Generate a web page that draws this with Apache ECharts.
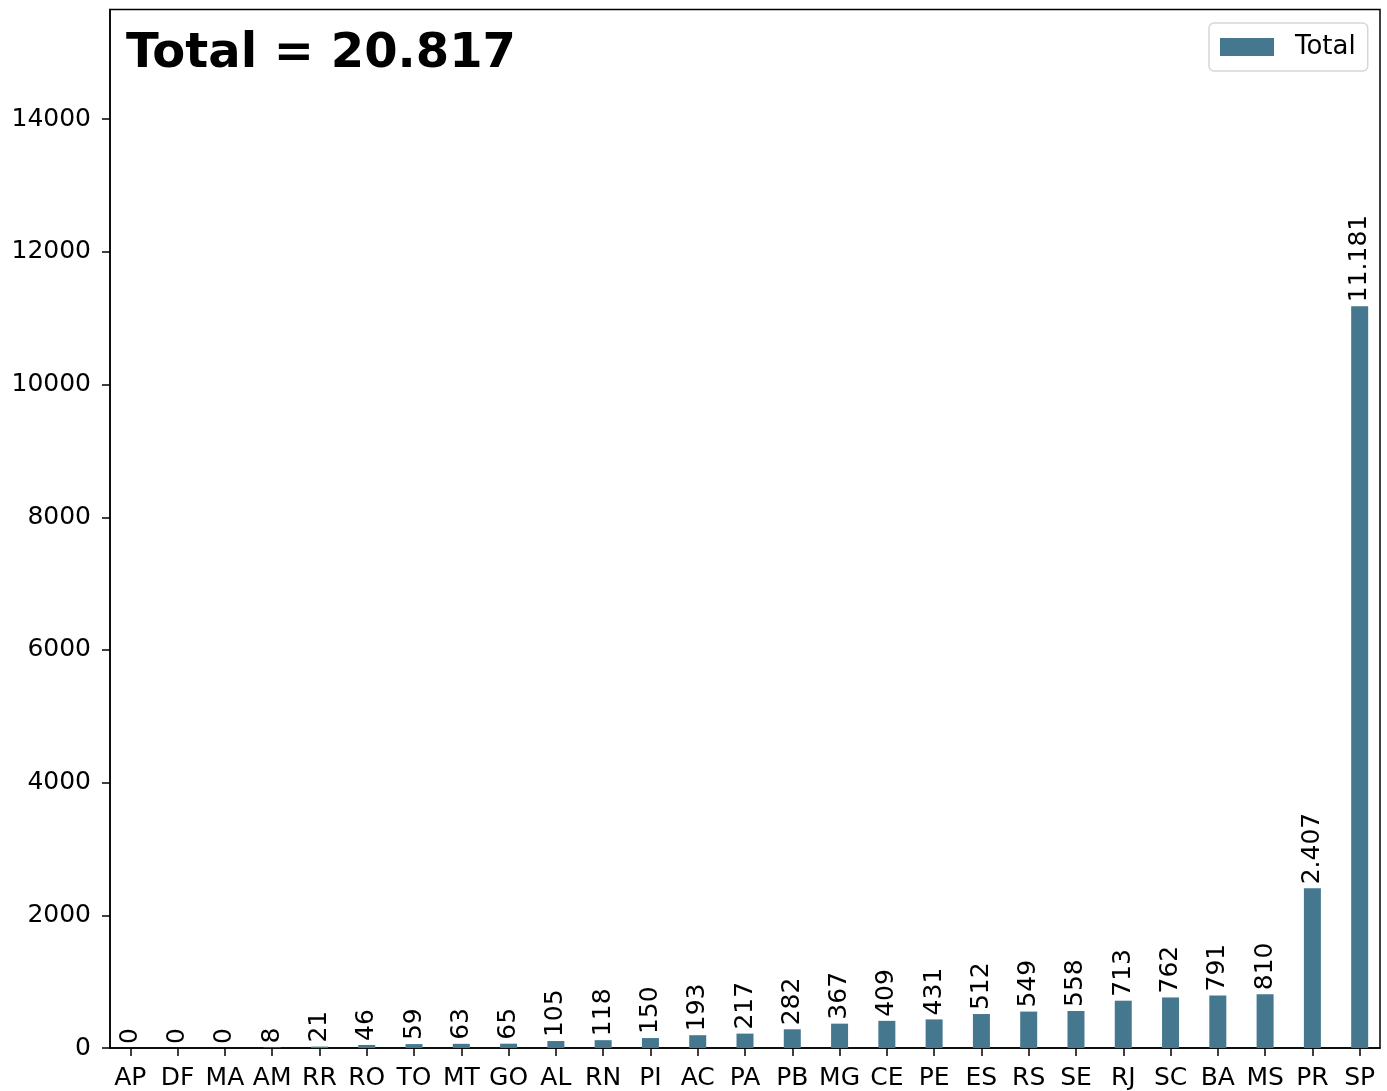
<!DOCTYPE html>
<html>
<head>
<meta charset="utf-8">
<script src="https://cdn.jsdelivr.net/npm/echarts@6/dist/echarts.min.js"></script>
<style>
html,body{margin:0;padding:0;background:#fff;}
#c{width:1387px;height:1091px;}
</style>
</head>
<body>
<div id="c"></div>
<script>
const categories = ['AP','DF','MA','AM','RR','RO','TO','MT','GO','AL','RN','PI','AC','PA','PB','MG','CE','PE','ES','RS','SE','RJ','SC','BA','MS','PR','SP'];
const values = [0,0,0,8,21,46,59,63,65,105,118,150,193,217,282,367,409,431,512,549,558,713,762,791,810,2407,11181];
const yTicks = [0,2000,4000,6000,8000,10000,12000,14000];
const seriesName = 'Total';
const titleText = 'Total = 20.817';

const FONT = 'DejaVu Sans';
const fmt = v => String(v).replace(/\B(?=(\d{3})+(?!\d))/g, '.');
const idx = categories.map((c, i) => i);
const yMax = Math.max.apply(null, values) * 1.4;

const chart = echarts.init(document.getElementById('c'), null, {renderer: 'canvas'});
chart.setOption({
  animation: false,
  backgroundColor: '#fff',
  title: {
    text: titleText,
    left: 126, top: 31, padding: 0,
    textStyle: {fontFamily: FONT, fontWeight: 'bold', fontSize: 48, color: '#000'}
  },
  legend: {
    data: [seriesName],
    left: 1209, top: 23,
    padding: [11, 12, 11, 11],
    icon: 'rect', itemWidth: 54, itemHeight: 18,
    borderColor: '#d6d6d6', borderWidth: 1.5, borderRadius: 5,
    backgroundColor: '#fff',
    textStyle: {fontFamily: FONT, fontSize: 26, color: '#000', padding: [0, 0, 0, 16]}
  },
  grid: {
    left: 110, right: 7, top: 9.5, bottom: 43,
    show: true, borderColor: '#000', borderWidth: 1.5, containLabel: false
  },
  xAxis: {
    type: 'value',
    min: -0.43, max: 26.43,
    axisLine: {show: true, onZero: false, lineStyle: {color: '#000', width: 1.5}},
    axisTick: {show: true, customValues: idx, length: 8, lineStyle: {color: '#000', width: 1.5}},
    axisLabel: {show: true, customValues: idx, margin: 18, formatter: v => categories[Math.round(v)] || '',
      fontFamily: FONT, fontSize: 25, color: '#000'},
    splitLine: {show: false}
  },
  yAxis: {
    type: 'value',
    min: 0, max: yMax, interval: 2000,
    axisLine: {show: true, onZero: false, lineStyle: {color: '#000', width: 1.5}},
    axisTick: {show: true, length: 8, lineStyle: {color: '#000', width: 1.5}},
    axisLabel: {show: true, margin: 19, showMaxLabel: false, fontFamily: FONT, fontSize: 25, color: '#000',
      formatter: v => (yTicks.indexOf(v) >= 0 ? String(v) : '')},
    splitLine: {show: false}
  },
  series: [{
    name: seriesName,
    type: 'bar',
    barWidth: 17,
    itemStyle: {color: '#45788f'},
    data: idx.map(i => [i, values[i]]),
    label: {
      show: true, position: 'top', rotate: 90, align: 'left', verticalAlign: 'middle',
      distance: 4, fontFamily: FONT, fontSize: 25, color: '#000',
      formatter: p => fmt(p.value[1])
    }
  }]
});
</script>
</body>
</html>
